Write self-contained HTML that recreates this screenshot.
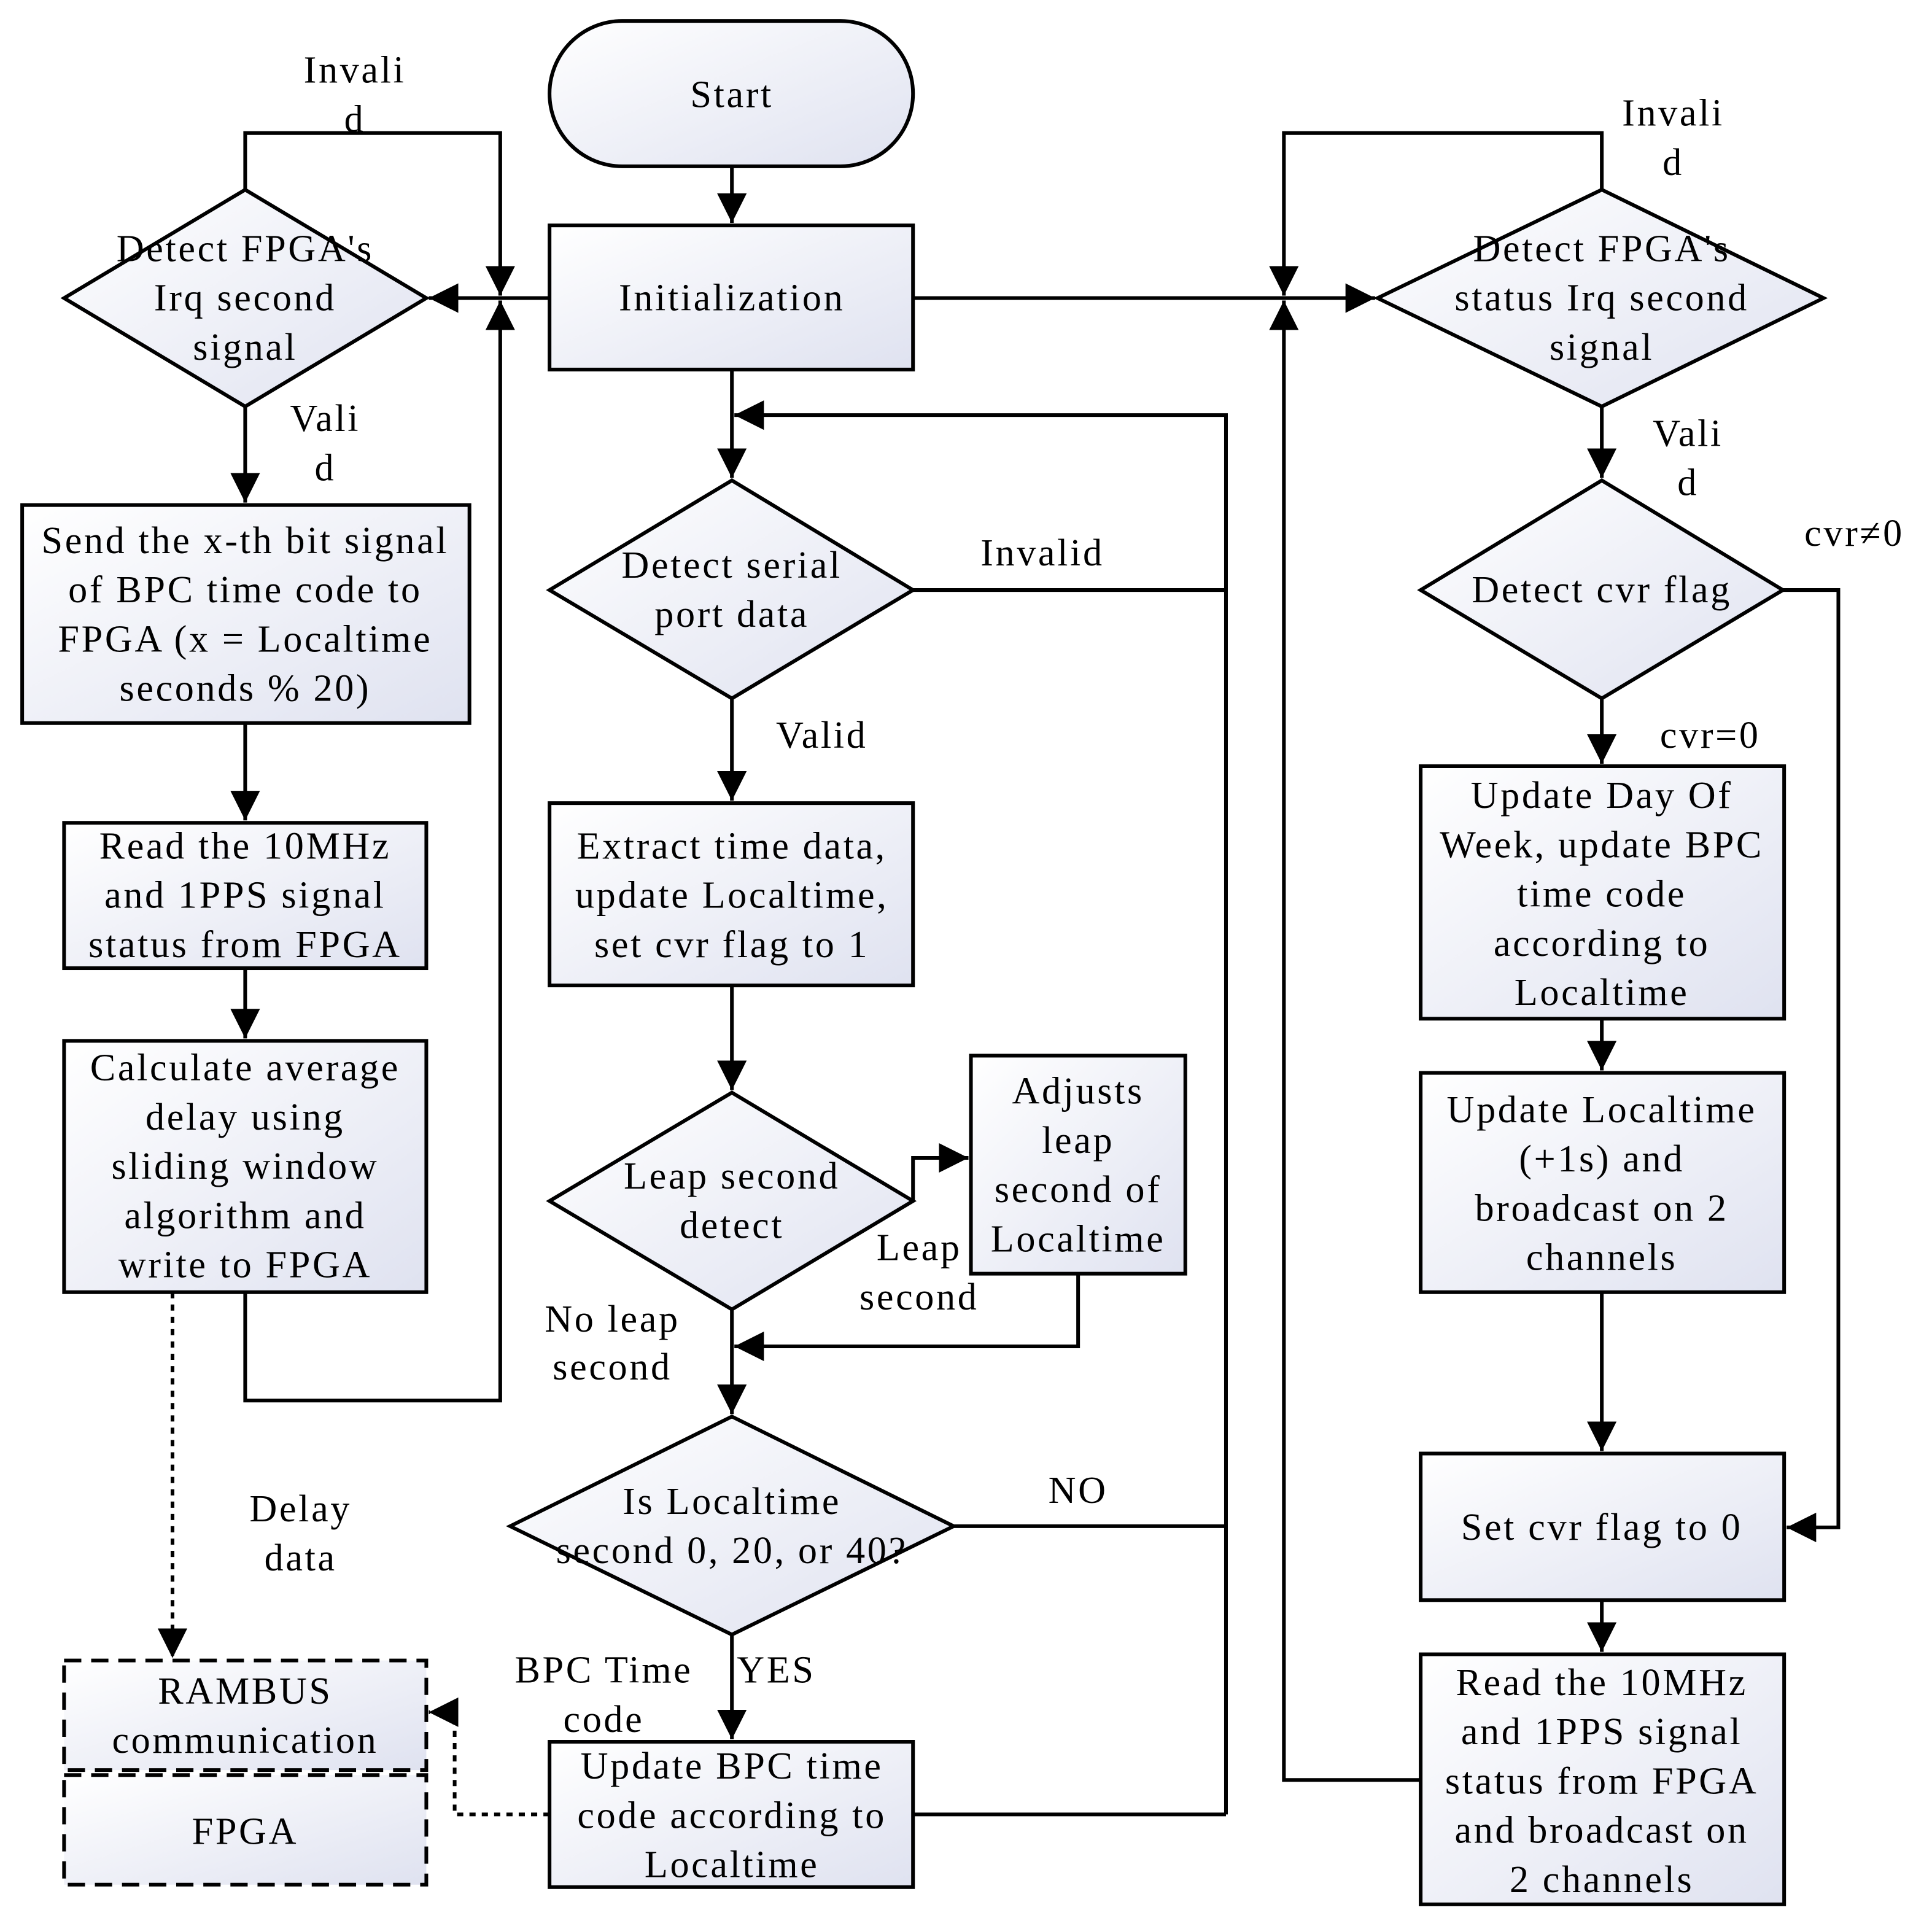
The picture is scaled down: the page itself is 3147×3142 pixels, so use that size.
<!DOCTYPE html>
<html><head><meta charset="utf-8"><style>
html,body{margin:0;padding:0;background:#fff}
svg{display:block}
text{font-family:"Liberation Serif",serif;font-size:31px;letter-spacing:1.8px;fill:#000}
</style></head><body>
<svg width="3147" height="3142" viewBox="0 0 1568 1566" preserveAspectRatio="none" xmlns="http://www.w3.org/2000/svg">
<defs>
<linearGradient id="g" x1="0" y1="0" x2="1" y2="1">
<stop offset="0" stop-color="#ffffff"/><stop offset="1" stop-color="#dfe2f0"/>
</linearGradient>
<marker id="a" markerUnits="userSpaceOnUse" markerWidth="26" markerHeight="26" refX="24" refY="13" orient="auto">
<path d="M0,1 L24,13 L0,25 z" fill="#000"/>
</marker>
</defs>
<g fill="url(#g)" stroke="#000" stroke-width="3">
<rect x="446" y="17" width="295" height="118" rx="59"/>
<rect x="446" y="183" width="295" height="117"/>
<polygon points="52,242 199,154 346,242 199,330"/>
<rect x="18" y="410" width="363" height="177"/>
<rect x="52" y="668" width="294" height="118"/>
<rect x="52" y="845" width="294" height="204"/>
<rect x="52" y="1348" width="294" height="89" stroke-dasharray="14,8"/>
<rect x="52" y="1441" width="294" height="89" stroke-dasharray="14,8"/>
<polygon points="446,479 594,390 741,479 594,567"/>
<rect x="446" y="652" width="295" height="148"/>
<polygon points="446,975 594,887 741,975 594,1063"/>
<rect x="788" y="857" width="174" height="177"/>
<polygon points="414,1239 594,1150 774,1239 594,1327"/>
<rect x="446" y="1414" width="295" height="118"/>
<polygon points="1118,242 1300,154 1480,242 1300,330"/>
<polygon points="1153,479 1300,390 1447,479 1300,567"/>
<rect x="1153" y="622" width="295" height="205"/>
<rect x="1153" y="871" width="295" height="178"/>
<rect x="1153" y="1180" width="295" height="119"/>
<rect x="1153" y="1343" width="295" height="203"/>
</g>
<g fill="none" stroke="#000" stroke-width="3">
<polyline points="199,154 199,108 406,108 406,240" marker-end="url(#a)"/>
<line x1="446" y1="242" x2="348" y2="242" marker-end="url(#a)"/>
<line x1="199" y1="330" x2="199" y2="408" marker-end="url(#a)"/>
<line x1="199" y1="587" x2="199" y2="666" marker-end="url(#a)"/>
<line x1="199" y1="786" x2="199" y2="843" marker-end="url(#a)"/>
<polyline points="199,1049 199,1137 406,1137 406,244" marker-end="url(#a)"/>
<polyline points="140,1049 140,1346" stroke-dasharray="5,5" marker-end="url(#a)"/>
<polyline points="446,1473 369,1473 369,1390 348,1390" stroke-dasharray="5,5" marker-end="url(#a)"/>
<line x1="594" y1="135" x2="594" y2="181" marker-end="url(#a)"/>
<line x1="594" y1="300" x2="594" y2="388" marker-end="url(#a)"/>
<polyline points="995,1473 995,337 596,337" marker-end="url(#a)"/>
<line x1="741" y1="479" x2="995" y2="479"/>
<line x1="594" y1="567" x2="594" y2="650" marker-end="url(#a)"/>
<line x1="594" y1="800" x2="594" y2="885" marker-end="url(#a)"/>
<polyline points="741,975 741,940 786,940" marker-end="url(#a)"/>
<polyline points="875,1034 875,1093 596,1093" marker-end="url(#a)"/>
<line x1="594" y1="1063" x2="594" y2="1148" marker-end="url(#a)"/>
<line x1="774" y1="1239" x2="995" y2="1239"/>
<line x1="594" y1="1327" x2="594" y2="1412" marker-end="url(#a)"/>
<line x1="741" y1="1473" x2="995" y2="1473"/>
<line x1="741" y1="242" x2="1116" y2="242" marker-end="url(#a)"/>
<polyline points="1300,154 1300,108 1042,108 1042,240" marker-end="url(#a)"/>
<polyline points="1153,1445 1042,1445 1042,244" marker-end="url(#a)"/>
<line x1="1300" y1="330" x2="1300" y2="388" marker-end="url(#a)"/>
<polyline points="1447,479 1492,479 1492,1240 1450,1240" marker-end="url(#a)"/>
<line x1="1300" y1="567" x2="1300" y2="620" marker-end="url(#a)"/>
<line x1="1300" y1="827" x2="1300" y2="869" marker-end="url(#a)"/>
<line x1="1300" y1="1049" x2="1300" y2="1178" marker-end="url(#a)"/>
<line x1="1300" y1="1299" x2="1300" y2="1341" marker-end="url(#a)"/>
</g>
<g text-anchor="middle">
<text x="594" y="87">Start</text>
<text x="594" y="252">Initialization</text>
<text x="199" y="212">Detect FPGA's</text><text x="199" y="252">Irq second</text><text x="199" y="292">signal</text>
<text x="288" y="67">Invali</text><text x="288" y="107">d</text>
<text x="264" y="350">Vali</text><text x="264" y="390">d</text>
<text x="199" y="449">Send the x-th bit signal</text><text x="199" y="489">of BPC time code to</text><text x="199" y="529">FPGA (x = Localtime</text><text x="199" y="569">seconds % 20)</text>
<text x="199" y="697">Read the 10MHz</text><text x="199" y="737">and 1PPS signal</text><text x="199" y="777">status from FPGA</text>
<text x="199" y="877">Calculate average</text><text x="199" y="917">delay using</text><text x="199" y="957">sliding window</text><text x="199" y="997">algorithm and</text><text x="199" y="1037">write to FPGA</text>
<text x="244" y="1235">Delay</text><text x="244" y="1275">data</text>
<text x="199" y="1383">RAMBUS</text><text x="199" y="1423">communication</text>
<text x="199" y="1497">FPGA</text>
<text x="594" y="469">Detect serial</text><text x="594" y="509">port data</text>
<text x="846" y="459">Invalid</text>
<text x="667" y="607">Valid</text>
<text x="594" y="697">Extract time data,</text><text x="594" y="737">update Localtime,</text><text x="594" y="777">set cvr flag to 1</text>
<text x="594" y="965">Leap second</text><text x="594" y="1005">detect</text>
<text x="875" y="896">Adjusts</text><text x="875" y="936">leap</text><text x="875" y="976">second of</text><text x="875" y="1016">Localtime</text>
<text x="746" y="1023">Leap</text><text x="746" y="1063">second</text>
<text x="497" y="1081">No leap</text><text x="497" y="1120">second</text>
<text x="594" y="1229">Is Localtime</text><text x="594" y="1269">second 0, 20, or 40?</text>
<text x="875" y="1220">NO</text>
<text x="630" y="1366">YES</text>
<text x="490" y="1366">BPC Time</text><text x="490" y="1406">code</text>
<text x="594" y="1444">Update BPC time</text><text x="594" y="1484">code according to</text><text x="594" y="1524">Localtime</text>
<text x="1300" y="212">Detect FPGA's</text><text x="1300" y="252">status Irq second</text><text x="1300" y="292">signal</text>
<text x="1358" y="102">Invali</text><text x="1358" y="142">d</text>
<text x="1370" y="362">Vali</text><text x="1370" y="402">d</text>
<text x="1300" y="489">Detect cvr flag</text>
<text x="1505" y="443">cvr≠0</text>
<text x="1388" y="607">cvr=0</text>
<text x="1300" y="656">Update Day Of</text><text x="1300" y="696">Week, update BPC</text><text x="1300" y="736">time code</text><text x="1300" y="776">according to</text><text x="1300" y="816">Localtime</text>
<text x="1300" y="911">Update Localtime</text><text x="1300" y="951">(+1s) and</text><text x="1300" y="991">broadcast on 2</text><text x="1300" y="1031">channels</text>
<text x="1300" y="1250">Set cvr flag to 0</text>
<text x="1300" y="1376">Read the 10MHz</text><text x="1300" y="1416">and 1PPS signal</text><text x="1300" y="1456">status from FPGA</text><text x="1300" y="1496">and broadcast on</text><text x="1300" y="1536">2 channels</text>
</g>
</svg>
</body></html>
